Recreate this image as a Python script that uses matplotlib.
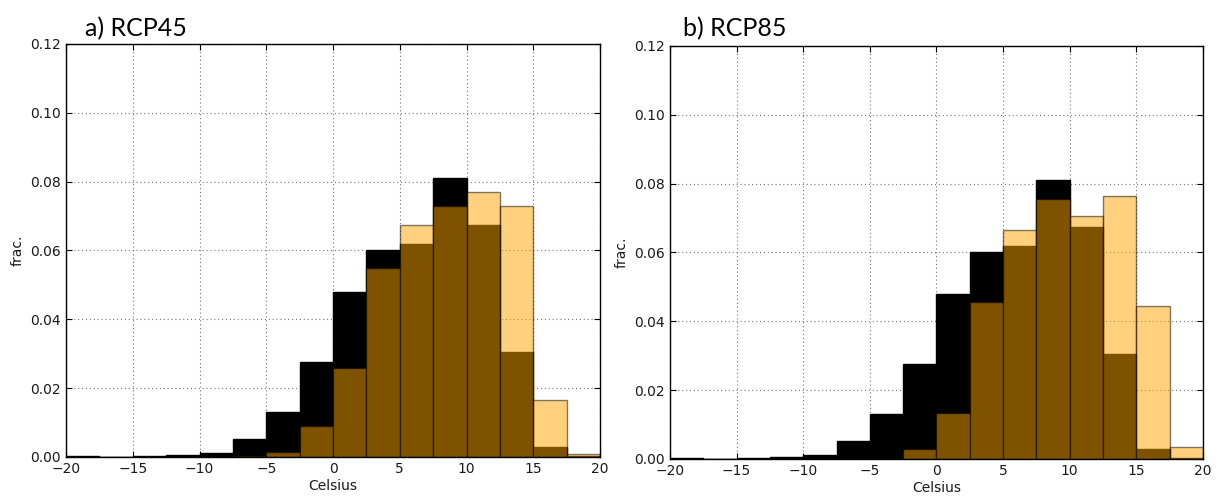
import numpy as np
import matplotlib
matplotlib.use('Agg')
import matplotlib.pyplot as plt

# bin edges (Celsius) and densities
bin_edges = np.arange(-20, 20.1, 2.5)

hist_frac = [0.0003, 0.0001, 0.0002, 0.0005, 0.0012, 0.0053, 0.0130, 0.0275,
             0.0480, 0.0600, 0.0620, 0.0810, 0.0675, 0.0305, 0.0030, 0.0002]

rcp45_frac = [0.0, 0.0, 0.0, 0.0, 0.0, 0.0003, 0.0015, 0.0090,
              0.0260, 0.0550, 0.0675, 0.0730, 0.0770, 0.0728, 0.0165, 0.0010]

rcp85_frac = [0.0, 0.0, 0.0, 0.0, 0.0, 0.0, 0.0, 0.0030,
              0.0133, 0.0455, 0.0665, 0.0755, 0.0705, 0.0765, 0.0445, 0.0035]

titles = ['a) RCP45', 'b) RCP85']
x_ticks = [-20, -15, -10, -5, 0, 5, 10, 15, 20]
y_ticks = [0.00, 0.02, 0.04, 0.06, 0.08, 0.10, 0.12]


def draw_panel(ax, future):
    left = bin_edges[:-1]
    width = np.diff(bin_edges)
    ax.bar(left, hist_frac, width=width, align='edge', color='k', edgecolor='k', linewidth=1)
    ax.bar(left, future, width=width, align='edge', color='orange', alpha=0.5,
           edgecolor='k', linewidth=1)
    ax.set_xlim(-20, 20)
    ax.set_ylim(0, 0.12)
    ax.set_xticks(x_ticks)
    ax.set_yticks(y_ticks)
    ax.set_yticklabels(['%.2f' % v for v in y_ticks])
    ax.grid(True, color='0.45', linestyle=(0, (1, 2.5)), linewidth=0.8)
    ax.set_axisbelow(True)
    ax.tick_params(direction='in', top=True, right=True, length=4, labelsize=10,
                   labelcolor='0.1')
    ax.set_xlabel('Celsius', fontsize=10, labelpad=2, color='0.1')
    ax.set_ylabel('frac.', fontsize=10, labelpad=4, color='0.1')
    for sp in ax.spines.values():
        sp.set_linewidth(1.0)
        sp.set_zorder(5)


def main():
    fig = plt.figure(figsize=(12.21, 4.97), dpi=100)
    ax1 = fig.add_axes([0.0541, 0.0805, 0.4373, 0.831])
    ax2 = fig.add_axes([0.5487, 0.0765, 0.4365, 0.831])

    draw_panel(ax1, rcp45_frac)
    draw_panel(ax2, rcp85_frac)

    fig.text(85 / 1221, 1 - 36 / 497, titles[0], fontsize=18, family='Lato', va='baseline')
    fig.text(683 / 1221, 1 - 36 / 497, titles[1], fontsize=18, family='Lato', va='baseline')

    fig.savefig('out.png', dpi=100)


if __name__ == '__main__':
    main()
